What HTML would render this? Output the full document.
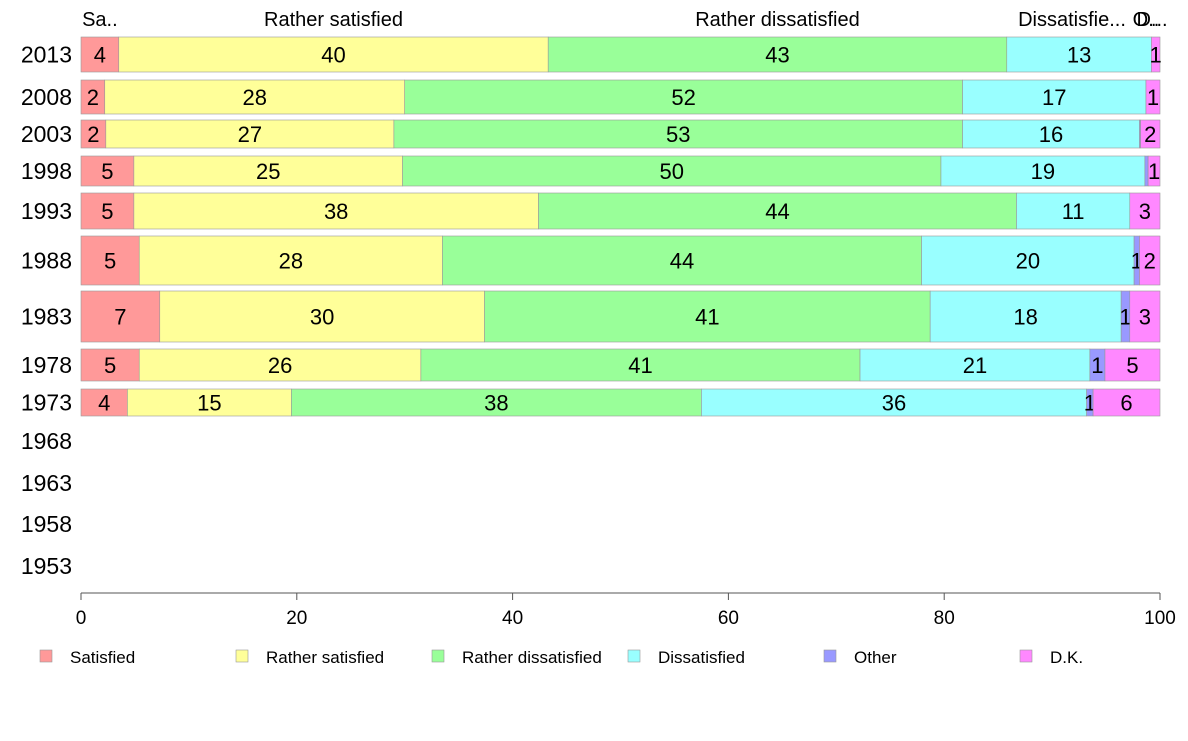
<!DOCTYPE html>
<html><head><meta charset="utf-8"><style>
body{margin:0;background:#fff;font-family:"Liberation Sans",Arial,sans-serif}
svg text{font-family:"Liberation Sans",Arial,sans-serif}
</style></head><body>
<svg id="c" width="1188" height="736"></svg>
<script>
const categories=["Satisfied","Rather satisfied","Rather dissatisfied","Dissatisfied","Other","D.K."];
const topLabels=["Sa..","Rather satisfied","Rather dissatisfied","Dissatisfie...","O..","D..."];
const years=["2013","2008","2003","1998","1993","1988","1983","1978","1973","1968","1963","1958","1953"];
const satisfied=[3.5,2.2,2.3,4.9,4.9,5.4,7.3,5.4,4.3];
const ratherSatisfied=[39.8,27.8,26.7,24.9,37.5,28.1,30.1,26.1,15.2];
const ratherDissatisfied=[42.5,51.7,52.7,49.9,44.3,44.4,41.3,40.7,38.0];
const dissatisfied=[13.4,17.0,16.4,18.9,10.5,19.7,17.7,21.3,35.7];
const other=[0,0,0.1,0.3,0,0.5,0.8,1.4,0.6];
const dk=[0.8,1.3,1.8,1.1,2.8,1.9,2.8,5.1,6.2];
const xTicks=[0,20,40,60,80,100];
const colors=["#ff9999","#ffff99","#99ff99","#99ffff","#9999ff","#ff88ff"];
const series=[satisfied,ratherSatisfied,ratherDissatisfied,dissatisfied,other,dk];
const rowTop=[37,80,120,156,193,236,291,349,389];
const rowBot=[72,114,148,186,229,285,342,381,416];
const emptyY=[441,483,524,566];
const NS="http://www.w3.org/2000/svg";
const svg=document.getElementById("c");
const x=v=>81+v*(1160-81)/100;
function el(t,a,p){const e=document.createElementNS(NS,t);for(const k in a)e.setAttribute(k,a[k]);(p||svg).appendChild(e);return e;}
for(let r=0;r<rowTop.length;r++){
  const g=el("g",{});
  
  
  let cum=0;const h=rowBot[r]-rowTop[r];
  for(let s=0;s<series.length;s++){
    const v=series[s][r];
    const rc=el("rect",{x:x(cum),y:rowTop[r],width:Math.max(0,x(cum+v)-x(cum)),height:h,fill:colors[s],stroke:"#999","stroke-width":0.6},g);
    
    
    if(Math.round(v)>=1){
      const t=el("text",{x:(x(cum)+x(cum+v))/2,y:rowTop[r]+h/2+8,"text-anchor":"middle","font-size":22,fill:"#000"},g);
      t.textContent=Math.round(v);
      
      
    }
    cum+=v;
  }
  const yl=el("text",{x:72,y:(rowTop[r]+rowBot[r])/2+8,"text-anchor":"end","font-size":23},g);
  yl.textContent=years[r];
  
  
}
for(let i=0;i<emptyY.length;i++){
  const yl=el("text",{x:72,y:emptyY[i]+8,"text-anchor":"end","font-size":23});
  yl.textContent=years[rowTop.length+i];
  
  
}
{let cum=0;for(let s=0;s<series.length;s++){const v=series[s][0];
  let cx=(x(cum)+x(cum+v))/2; if(s===3)cx=1072; if(s===4)cx=1146; if(s===5)cx=1152;
  const t=el("text",{x:cx,y:26,"text-anchor":"middle","font-size":20});
  t.textContent=topLabels[s];
  
  
  cum+=v;}}
const ax=el("line",{x1:81,x2:1160,y1:593,y2:593,stroke:"#555"});


for(const v of xTicks){
  const tl=el("line",{x1:x(v),x2:x(v),y1:593,y2:600,stroke:"#555"});
  
  
  const t=el("text",{x:x(v),y:624,"text-anchor":"middle","font-size":19});
  t.textContent=v;
  
  
}
for(let s=0;s<categories.length;s++){
  const lx=40+s*196;
  const g=el("g",{});
  
  
  el("rect",{x:lx,y:650,width:12,height:12,fill:colors[s],stroke:"#999","stroke-width":0.6},g);
  const t=el("text",{x:lx+30,y:663,"font-size":17},g);
  t.textContent=categories[s];
}
</script>
</body></html>
